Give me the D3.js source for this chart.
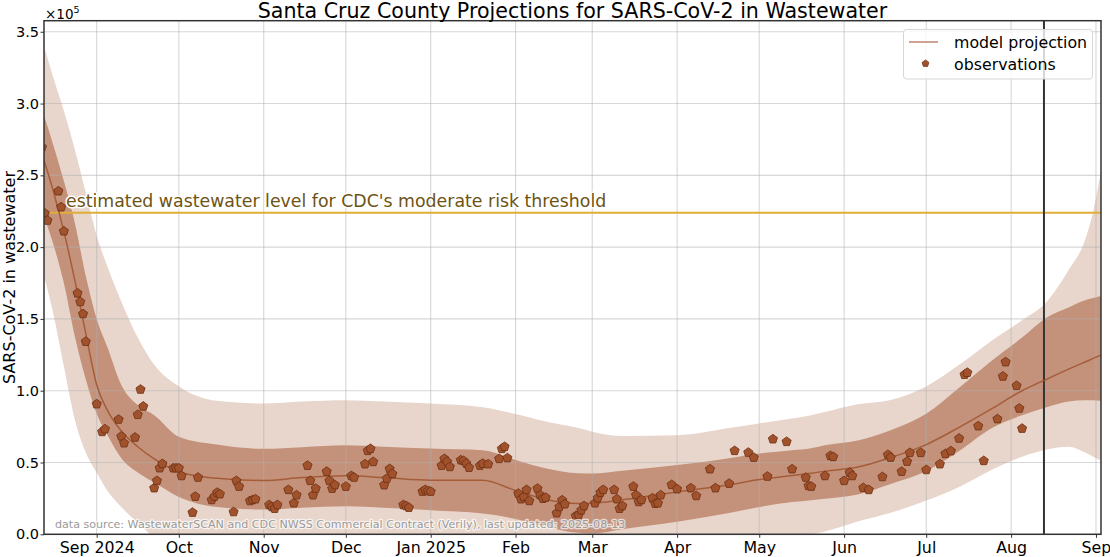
<!DOCTYPE html>
<html><head><meta charset="utf-8">
<script src="https://cdn.jsdelivr.net/npm/d3@7"></script>
<style>
body{margin:0;background:#fff}
text{font-family:"DejaVu Sans",sans-serif}
</style>
</head><body>
<svg id="chart" width="1110" height="557"></svg>
<script>
// ---------- data ----------
const xTickDates = ["2024-09-01","2024-10-01","2024-11-01","2024-12-01","2025-01-01","2025-02-01","2025-03-01","2025-04-01","2025-05-01","2025-06-01","2025-07-01","2025-08-01","2025-09-01"];
const xTickLabels = ["Sep 2024","Oct","Nov","Dec","Jan 2025","Feb","Mar","Apr","May","Jun","Jul","Aug","Sep"];
const yTickValues = [0, 0.5, 1.0, 1.5, 2.0, 2.5, 3.0, 3.5]; // x1e5

const bandDates = ["2024-08-12","2024-08-16","2024-08-20","2024-08-24","2024-08-28","2024-09-01","2024-09-05","2024-09-10","2024-09-16","2024-09-22","2024-10-01","2024-10-15","2024-11-01","2024-11-15","2024-12-01","2024-12-15","2025-01-01","2025-01-20","2025-02-01","2025-02-12","2025-02-24","2025-03-01","2025-03-12","2025-04-01","2025-04-20","2025-05-01","2025-05-13","2025-05-20","2025-05-25","2025-06-06","2025-06-18","2025-07-01","2025-07-13","2025-07-25","2025-08-05","2025-08-14","2025-08-22","2025-08-28","2025-08-31","2025-09-03"];
const projMedian = [2.65,2.40,2.11,1.77,1.40,1.04,0.86,0.72,0.61,0.525,0.436,0.39,0.375,0.395,0.407,0.395,0.377,0.377,0.305,0.243,0.215,0.216,0.24,0.295,0.345,0.381,0.409,0.425,0.44,0.468,0.535,0.625,0.745,0.875,1.0,1.08,1.15,1.20,1.225,1.25];
const innerLower = [2.25,2.03,1.75,1.38,1.08,0.84,0.69,0.53,0.43,0.36,0.26,0.19,0.172,0.185,0.195,0.185,0.167,0.144,0.107,0.053,0.01,0.005,0.035,0.087,0.148,0.19,0.225,0.238,0.248,0.278,0.35,0.44,0.58,0.74,0.83,0.885,0.925,0.934,0.934,0.93];
const innerUpper = [2.96,2.72,2.46,2.17,1.80,1.50,1.30,1.04,0.90,0.83,0.68,0.625,0.595,0.607,0.62,0.61,0.597,0.585,0.518,0.46,0.425,0.423,0.443,0.482,0.53,0.563,0.586,0.60,0.62,0.653,0.725,0.84,1.02,1.21,1.37,1.51,1.58,1.63,1.645,1.66];
const outerLower = [1.85,1.55,1.17,0.80,0.57,0.43,0.30,0.19,0.08,-0.02,-0.08,-0.1,-0.1,-0.1,-0.1,-0.1,-0.1,-0.1,-0.1,-0.1,-0.1,-0.1,-0.1,-0.1,-0.1,-0.08,-0.03,0.0,0.02,0.09,0.15,0.235,0.33,0.45,0.54,0.59,0.61,0.57,0.54,0.51];
const outerUpper = [3.45,3.19,2.95,2.68,2.38,2.08,1.86,1.62,1.37,1.18,1.03,0.93,0.911,0.925,0.934,0.925,0.911,0.885,0.838,0.785,0.74,0.715,0.685,0.69,0.74,0.772,0.807,0.83,0.852,0.905,0.935,1.03,1.18,1.35,1.49,1.62,1.84,2.05,2.25,2.55];

const obsDates = ["2024-08-12","2024-08-13","2024-08-14","2024-08-18","2024-08-19","2024-08-20","2024-08-25","2024-08-26","2024-08-27","2024-08-28",
"2024-09-01","2024-09-03","2024-09-04","2024-09-09","2024-09-10","2024-09-11","2024-09-15","2024-09-16","2024-09-17","2024-09-18",
"2024-09-22","2024-09-23","2024-09-24","2024-09-25","2024-09-29","2024-09-30","2024-10-01","2024-10-02","2024-10-06","2024-10-07",
"2024-10-08","2024-10-13","2024-10-14","2024-10-15","2024-10-16","2024-10-21","2024-10-22","2024-10-23","2024-10-27","2024-10-28",
"2024-10-29","2024-11-03","2024-11-04","2024-11-05","2024-11-06","2024-11-10","2024-11-12","2024-11-13","2024-11-17","2024-11-18",
"2024-11-19","2024-11-20","2024-11-24","2024-11-25","2024-11-26","2024-11-27","2024-12-01","2024-12-03","2024-12-04","2024-12-08",
"2024-12-09","2024-12-10","2024-12-11","2024-12-15","2024-12-16","2024-12-17","2024-12-18","2024-12-22","2024-12-23","2024-12-24",
"2024-12-29","2024-12-30","2024-12-31","2025-01-01","2025-01-05","2025-01-06","2025-01-07","2025-01-08","2025-01-12","2025-01-13",
"2025-01-14","2025-01-15","2025-01-19","2025-01-20","2025-01-22","2025-01-26","2025-01-27","2025-01-28","2025-01-29","2025-02-02",
"2025-02-03","2025-02-04","2025-02-05","2025-02-06","2025-02-09","2025-02-10","2025-02-11","2025-02-12","2025-02-16","2025-02-17",
"2025-02-18","2025-02-19","2025-02-23","2025-02-24","2025-02-25","2025-02-26","2025-03-02","2025-03-03","2025-03-04","2025-03-05",
"2025-03-09","2025-03-10","2025-03-11","2025-03-12","2025-03-16","2025-03-17","2025-03-18","2025-03-19","2025-03-23","2025-03-24",
"2025-03-25","2025-03-26","2025-03-30","2025-04-01","2025-04-06","2025-04-08","2025-04-13","2025-04-15","2025-04-20","2025-04-22",
"2025-04-27","2025-04-29","2025-05-04","2025-05-06","2025-05-11","2025-05-13","2025-05-18","2025-05-19","2025-05-20","2025-05-25",
"2025-05-27","2025-05-28","2025-06-01","2025-06-03","2025-06-04","2025-06-08","2025-06-10","2025-06-15","2025-06-17","2025-06-18",
"2025-06-22","2025-06-24","2025-06-25","2025-06-29","2025-07-01","2025-07-06","2025-07-08","2025-07-10","2025-07-13","2025-07-15",
"2025-07-16","2025-07-20","2025-07-22","2025-07-27","2025-07-29","2025-07-30","2025-08-03","2025-08-04","2025-08-05"];
const obsValues = [2.70,2.24,2.19,2.394,2.283,2.115,1.683,1.623,1.539,1.346,
0.911,0.718,0.737,0.804,0.686,0.639,0.679,0.837,1.013,0.895,
0.326,0.377,0.465,0.495,0.465,0.465,0.465,0.411,0.156,0.267,
0.40,0.244,0.267,0.295,0.284,0.160,0.377,0.337,0.237,0.244,
0.249,0.209,0.195,0.183,0.209,0.314,0.221,0.277,0.483,0.377,
0.277,0.323,0.441,0.377,0.323,0.347,0.337,0.411,0.40,0.493,
0.586,0.60,0.509,0.347,0.393,0.46,0.425,0.209,0.202,0.19,
0.302,0.314,0.307,0.302,0.483,0.53,0.509,0.474,0.521,0.516,
0.497,0.469,0.483,0.497,0.493,0.53,0.60,0.614,0.535,0.288,
0.249,0.265,0.314,0.237,0.323,0.277,0.253,0.26,0.151,0.195,
0.242,0.214,0.132,0.139,0.172,0.202,0.221,0.256,0.295,0.314,
0.314,0.249,0.183,0.202,0.337,0.277,0.23,0.244,0.256,0.218,
0.221,0.277,0.349,0.319,0.326,0.272,0.458,0.326,0.358,0.586,
0.574,0.539,0.407,0.667,0.649,0.458,0.40,0.342,0.337,0.411,
0.551,0.544,0.377,0.434,0.411,0.328,0.314,0.404,0.558,0.539,
0.441,0.511,0.572,0.572,0.453,0.493,0.565,0.584,0.672,1.116,
1.13,0.758,0.516,0.807,1.104,1.204,1.039,0.881,0.741];

const thresholdValue = 2.24; // x1e5
const lastUpdated = "2025-08-13";
const SCALE = 1e5;

// ---------- chart ----------
const parse = d3.timeParse("%Y-%m-%d");
const svg = d3.select("#chart");
const L = 44, R = 1101, T = 20.7, B = 534.3;

const x = d3.scaleTime()
  .domain([new Date(2024,7,12,18), new Date(2025,8,2,20)])
  .range([L, R]);
const y = d3.scaleLinear().domain([0, 3.577*SCALE]).range([B, T]);

svg.append("defs").append("clipPath").attr("id","plotclip")
  .append("rect").attr("x",L).attr("y",T).attr("width",R-L).attr("height",B-T);

const plot = svg.append("g").attr("clip-path","url(#plotclip)");

const bands = bandDates.map((d,i)=>({
  date: parse(d), med: projMedian[i]*SCALE,
  ilo: innerLower[i]*SCALE, ihi: innerUpper[i]*SCALE,
  olo: outerLower[i]*SCALE, ohi: outerUpper[i]*SCALE
}));
const curve = d3.curveMonotoneX;

plot.append("path").datum(bands)
  .attr("d", d3.area().curve(curve).x(d=>x(d.date)).y0(d=>y(d.olo)).y1(d=>y(d.ohi)))
  .attr("fill","#e8d6cc");
plot.append("path").datum(bands)
  .attr("d", d3.area().curve(curve).x(d=>x(d.date)).y0(d=>y(d.ilo)).y1(d=>y(d.ihi)))
  .attr("fill","#c4927b");

// grid
const grid = plot.append("g");
xTickDates.forEach(d=>{
  grid.append("line").attr("x1",x(parse(d))).attr("x2",x(parse(d)))
    .attr("y1",T).attr("y2",B).attr("stroke","#b0b0b0").attr("stroke-opacity",0.5).attr("stroke-width",1.1);
});
yTickValues.forEach(v=>{
  grid.append("line").attr("x1",L).attr("x2",R).attr("y1",y(v*SCALE)).attr("y2",y(v*SCALE))
    .attr("stroke","#b0b0b0").attr("stroke-opacity",0.5).attr("stroke-width",1.1);
});

// threshold
plot.append("line").attr("x1",L).attr("x2",R)
  .attr("y1",y(thresholdValue*SCALE)).attr("y2",y(thresholdValue*SCALE))
  .attr("stroke","#dfae37").attr("stroke-width",2);

// last-updated vertical line
plot.append("line").attr("x1",x(parse(lastUpdated))).attr("x2",x(parse(lastUpdated)))
  .attr("y1",T).attr("y2",B).attr("stroke","#333").attr("stroke-width",2);

// model line
plot.append("path").datum(bands)
  .attr("d", d3.line().curve(curve).x(d=>x(d.date)).y(d=>y(d.med)))
  .attr("fill","none").attr("stroke","#a0522d").attr("stroke-width",1.5).attr("stroke-opacity",0.85);

// pentagon markers
function pentagon(r){
  const pts = d3.range(5).map(k=>{
    const a = -Math.PI/2 + k*2*Math.PI/5;
    return [r*Math.cos(a), r*Math.sin(a)];
  });
  return "M" + pts.map(p=>p[0].toFixed(2)+","+p[1].toFixed(2)).join("L") + "Z";
}
const obs = obsDates.map((d,i)=>({date: parse(d), v: obsValues[i]*SCALE}));
plot.append("g").selectAll("path").data(obs).join("path")
  .attr("d", pentagon(4.8))
  .attr("transform", d=>`translate(${x(d.date)},${y(d.v)+0.6})`)
  .attr("fill","#a0522d").attr("stroke","#6e2e10").attr("stroke-width",0.8);

// threshold label
svg.append("text").attr("x",66).attr("y",y(thresholdValue*SCALE)-6)
  .attr("font-size",17.35).attr("fill","#6e5312")
  .attr("stroke","#fff").attr("stroke-width",3).attr("stroke-linejoin","round")
  .attr("paint-order","stroke")
  .text("estimated wastewater level for CDC's moderate risk threshold");

// data source
svg.append("text").attr("x",55).attr("y",528)
  .attr("font-size",11.1).attr("fill","#9a9a9a")
  .attr("stroke","#fff").attr("stroke-opacity",0.7).attr("stroke-width",2.5).attr("stroke-linejoin","round")
  .attr("paint-order","stroke")
  .text("data source: WastewaterSCAN and CDC NWSS Commercial Contract (Verily), last updated: 2025-08-13");

// axes
const xAxis = svg.append("g").attr("transform",`translate(0,${B})`)
  .call(d3.axisBottom(x).tickValues(xTickDates.map(parse)).tickFormat((d,i)=>xTickLabels[i]).tickSize(3.5).tickPadding(4));
xAxis.select(".domain").remove();
xAxis.selectAll("line").attr("stroke","#333").attr("stroke-width",1);
xAxis.selectAll("text").attr("font-size",15.8).attr("fill","#000").attr("font-family","DejaVu Sans");

const yAxis = svg.append("g").attr("transform",`translate(${L},0)`)
  .call(d3.axisLeft(y).tickValues(yTickValues.map(v=>v*SCALE)).tickFormat(d=>d3.format(".1f")(d/SCALE)).tickSize(3.5).tickPadding(1.5));
yAxis.select(".domain").remove();
yAxis.selectAll("line").attr("stroke","#333").attr("stroke-width",1);
yAxis.selectAll("text").attr("font-size",14.5).attr("fill","#000").attr("font-family","DejaVu Sans");

// spines
svg.append("rect").attr("x",L).attr("y",T).attr("width",R-L).attr("height",B-T)
  .attr("fill","none").attr("stroke","#333").attr("stroke-width",1.5);

// offset text
const off = svg.append("text").attr("x",45).attr("y",19).attr("font-size",13.5).attr("fill","#000");
off.append("tspan").text("×10");
off.append("tspan").attr("font-size",9.5).attr("dy",-6).text("5");

// title
svg.append("text").attr("x",(L+R)/2).attr("y",18).attr("text-anchor","middle")
  .attr("font-size",20.6).attr("fill","#000")
  .text("Santa Cruz County Projections for SARS-CoV-2 in Wastewater");

// y label
svg.append("text").attr("transform",`translate(14.5,${(T+B)/2}) rotate(-90)`)
  .attr("text-anchor","middle").attr("font-size",16).attr("fill","#000")
  .text("SARS-CoV-2 in wastewater");

// legend
const lg = svg.append("g");
lg.append("rect").attr("x",903.5).attr("y",29.5).attr("width",189).attr("height",49.5).attr("rx",3)
  .attr("fill","#fff").attr("fill-opacity",0.8).attr("stroke","#d6d6d6").attr("stroke-width",1);
lg.append("line").attr("x1",909).attr("x2",938).attr("y1",42).attr("y2",42)
  .attr("stroke","#a0522d").attr("stroke-opacity",0.7).attr("stroke-width",1.5);
lg.append("text").attr("x",954).attr("y",48).attr("font-size",15.8).attr("fill","#000").text("model projection");
lg.append("path").attr("d",pentagon(3.6)).attr("transform","translate(925.5,63.5)")
  .attr("fill","#a0522d").attr("stroke","#6e2e10").attr("stroke-width",0.7);
lg.append("text").attr("x",954).attr("y",70).attr("font-size",15.8).attr("fill","#000").text("observations");
</script>
</body></html>
